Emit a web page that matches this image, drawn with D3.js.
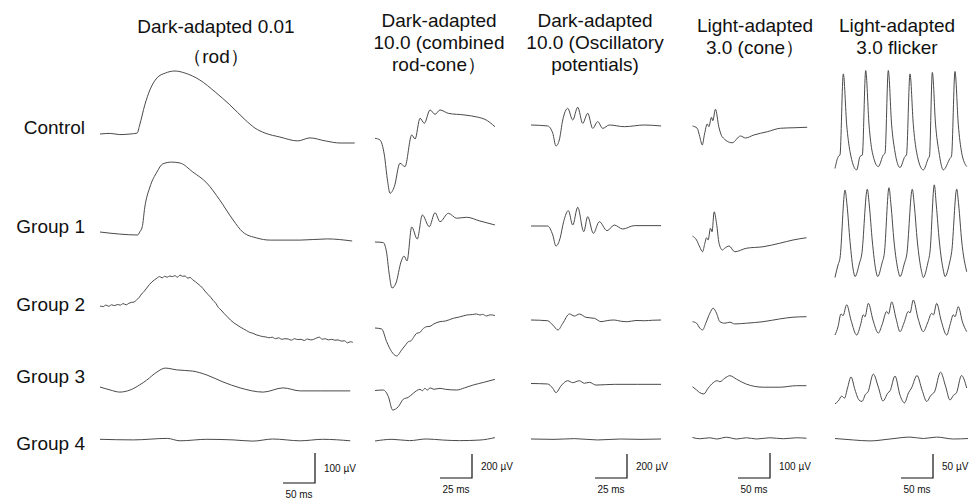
<!DOCTYPE html>
<html>
<head>
<meta charset="utf-8">
<script src="https://cdn.jsdelivr.net/npm/d3@7"></script>
<style>
body { margin: 0; background: #fff; }
svg text { font-family: "Liberation Sans", Arial, sans-serif; fill: #111; }
</style>
</head>
<body>
<div class="svg-container"></div>
<script>
const width = 969;
const height = 498;

const groups = ['Control', 'Group 1', 'Group 2', 'Group 3', 'Group 4'];
const titles = [
  ['Dark-adapted 0.01', '（rod）'],
  ['Dark-adapted', '10.0 (combined', 'rod-cone）'],
  ['Dark-adapted', '10.0 (Oscillatory', 'potentials)'],
  ['Light-adapted', '3.0 (cone）'],
  ['Light-adapted', '3.0 flicker']
];
const barVolts = [100, 200, 200, 100, 50];
const barTimes = [50, 25, 25, 50, 50];

// traces: [ms, µV], one list per group
const rodTraces = [
  [[0,0],[16,2],[31,-2],[47,0],[58,3],[62,30],[70,97],[78,147],[89,187],[102,203],[117,210],[133,203],[156,180],[180,140],[203,97],[227,47],[242,20],[258,3],[281,-10],[309,-23],[328,-13],[352,-23],[375,-30],[398,-30]],
  [[0,0],[31,-7],[59,-10],[62,0],[66,17],[70,83],[78,150],[89,200],[98,227],[112,233],[125,230],[145,200],[167,163],[187,107],[208,40],[223,0],[245,-20],[266,-27],[313,-27],[355,-23],[394,-30]],
  [[0,0],[5,-2],[9,3],[14,-1],[18,4],[23,1],[27,5],[32,3],[36,8],[41,4],[45,9],[49,12],[53,13],[57,20],[61,28],[65,40],[69,49],[73,60],[77,71],[81,80],[85,87],[89,93],[93,98],[97,94],[101,99],[105,96],[109,100],[113,98],[117,101],[121,96],[125,103],[129,99],[133,100],[137,93],[141,95],[145,87],[149,81],[153,74],[157,67],[161,58],[165,47],[169,38],[173,29],[177,18],[181,9],[185,-5],[189,-13],[194,-25],[199,-36],[204,-47],[209,-56],[214,-63],[219,-70],[224,-76],[229,-82],[234,-88],[239,-91],[244,-96],[249,-99],[254,-102],[259,-103],[264,-106],[269,-104],[274,-109],[279,-106],[284,-111],[289,-109],[294,-110],[299,-114],[304,-109],[309,-112],[314,-111],[319,-115],[324,-110],[329,-113],[334,-111],[339,-106],[343,-104],[347,-111],[352,-109],[357,-113],[362,-111],[367,-114],[372,-113],[377,-117],[382,-116],[387,-123],[391,-119],[395,-121]],
  [[0,0],[16,-10],[31,-17],[47,-10],[62,7],[73,23],[89,50],[102,63],[120,57],[145,53],[167,40],[192,17],[219,-3],[255,-17],[286,-3],[313,-13],[344,-13],[391,-13]],
  [[0,0],[52,-2],[105,3],[125,-5],[167,0],[208,-2],[239,-6],[270,1],[313,-5],[348,0],[391,-5]]
];

const mixedTraces = [
  [[0,0],[3.9,-14],[7.3,-139],[9.9,-361],[11.7,-458],[15.1,-403],[19.5,-208],[23.4,-236],[28.7,28],[31.3,-6],[35.2,167],[38.5,125],[43,236],[46.9,200],[50.8,236],[57.3,208],[70.3,194],[80.7,175],[85.9,158],[93.7,97]],
  [[0,0],[6.3,-4],[9,-83],[10.9,-250],[13.3,-383],[16.4,-342],[20.3,-167],[22.7,-117],[25,-158],[28.7,125],[33,25],[37,225],[42.4,128],[46.9,244],[50.8,169],[57.3,239],[63.8,198],[71.6,206],[82,175],[93.7,142]],
  [[0,0],[5.2,-8],[9.1,-114],[13,-197],[16.9,-233],[20.8,-183],[24,-140],[26,-114],[28,-108],[30,-80],[32.6,-44],[35,-38],[37,-12],[40.4,11],[43,14],[46,34],[50.8,53],[55,58],[61.2,81],[66,92],[71.6,108],[76,112],[79.4,117],[82,108],[84,114],[87.2,100],[90,110],[93.7,104]],
  [[0,0],[6.5,4],[10.4,-50],[13.8,-163],[18.2,-135],[22.1,-73],[26,-57],[29.9,-23],[35.2,10],[37,-2],[39,18],[41,4],[43,22],[46,10],[50.8,18],[55,10],[63.8,4],[70,22],[76.8,46],[85,68],[93.7,93]],
  [[0,0],[13.3,14],[27,3],[40,17],[53,8],[66,3],[82,8],[93.7,28]]
];

const opTraces = [
  [[0,0],[13,-8],[17,-69],[19.5,-175],[22.1,-125],[24.8,42],[28.7,139],[32.6,42],[36.5,148],[40.4,14],[44.3,98],[48.2,-28],[52.1,28],[56,-28],[61.2,0],[72.9,-14],[88.5,0],[101.6,-8]],
  [[0,0],[13,0],[17,-75],[19.5,-167],[22.7,-103],[25.5,36],[29.2,128],[32.6,8],[36.5,156],[41.2,-47],[44.3,78],[48.7,-61],[53.4,36],[59.4,-39],[65.1,8],[71.6,-25],[80.7,3],[101.6,3]],
  [[0,0],[13,-6],[17,-42],[21.1,-83],[24.8,-28],[30,50],[33.9,33],[37.8,50],[43,22],[49.5,14],[54.7,-14],[60,-4],[65.1,0],[70,-10],[75.5,-14],[82,-4],[88.5,-6],[95,-2],[101.6,0]],
  [[0,0],[13,-4],[17,-40],[19.5,-76],[23.4,-21],[28.6,23],[32.6,7],[37.8,23],[41.7,2],[45.6,10],[50.8,-13],[65.1,-7],[83.3,-7],[101.6,-7]],
  [[0,0],[18,-3],[34,3],[52,-8],[70,0],[86,-3],[101.6,0]]
];

const coneTraces = [
  [[0,0],[7.3,-9],[11.4,-43],[15.2,-76],[18.8,-32],[23,8],[25.5,-3],[29.7,35],[31.7,21],[35.9,67],[41.1,-3],[46.4,-43],[62,-67],[75,-40],[82.8,-48],[95.8,-36],[116.7,-23],[137.5,-9],[158.3,-7],[179.2,-5]],
  [[0,0],[6.3,-16],[11.5,-45],[15.7,-63],[19.3,-29],[21.9,-7],[24.4,-16],[28.1,31],[30.6,17],[33.8,97],[37.5,51],[41.5,-29],[46.7,-56],[50.3,-49],[57.1,-40],[66,-63],[84.2,-49],[110.2,-43],[136.2,-29],[157.1,-16],[178.1,-7]],
  [[0,0],[6.3,-6],[11.5,-26],[15.7,-33],[20.8,-6],[27.1,34],[32.3,54],[37.5,34],[42.7,0],[50.5,-6],[58.3,-2],[66.1,-9],[84.2,-6],[110.2,0],[136.2,11],[157.1,18],[178.1,20]],
  [[0,0],[6.3,-13],[11.5,-24],[17.7,-29],[24.4,-6],[32.3,16],[38.5,24],[42.7,20],[50.5,34],[58.3,44],[68.8,30],[84.4,10],[110.4,-2],[136.5,-2],[162.5,4],[178.1,4]],
  [[0,0],[11.5,-5],[27.1,-1],[37.5,-6],[53.1,1],[68.8,-6],[84.4,-1],[100,-6],[120.8,-1],[141.7,-5],[162.5,-1],[178.1,-3]]
];

const flickerTraces = [
  [[3.1,-1],[8.3,24],[10.9,27],[16.1,196],[21.4,90],[26.6,34],[37,-4],[42.2,24],[45.8,27],[51.1,203],[56.3,90],[61.4,33],[70.8,3],[78.6,27],[81.3,31],[86.4,203],[91.6,90],[96.9,33],[104.7,1],[112.5,24],[114.8,27],[120.3,196],[125.5,90],[130.6,33],[141.1,-4],[148.9,20],[150.8,25],[155.2,199],[160.3,90],[165.6,33],[172.3,-4],[182.8,20],[185.2,25],[190.6,201],[195.8,90],[200.9,33],[208.9,3]],
  [[3.1,-1],[7.8,25],[10.9,39],[18.8,181],[21.9,150],[26.6,74],[32,12],[34.4,1],[41.4,29],[44.8,46],[53.6,183],[56.7,150],[61.4,75],[67.2,12],[69.8,1],[76.6,29],[80.2,49],[87.5,186],[90.6,150],[95.3,75],[102,12],[104.7,1],[111.7,29],[115.2,46],[123.9,183],[127,150],[131.7,75],[138.3,12],[141.1,-1],[148.1,29],[151.6,53],[158.3,192],[161.4,150],[166.1,75],[172.7,12],[175,1],[182,29],[185.5,53],[193.3,183],[196.4,150],[201.1,75],[208.9,11]],
  [[3.1,0],[7.8,17],[12.5,44],[15.6,40],[21.4,63],[28.1,31],[37,0],[43,21],[47.3,42],[50,38],[55.2,66],[62.5,31],[70.8,4],[76.6,21],[83.9,49],[86.7,44],[91.7,69],[98.4,35],[104.7,7],[110.9,25],[117.7,49],[120.3,46],[125.5,73],[132.8,35],[141.1,7],[147.7,25],[154.2,45],[157,42],[162,66],[168.8,31],[177.7,0],[182.8,21],[188,42],[190.6,38],[195.8,59],[202.3,27],[208.9,7]],
  [[3.1,-8],[8.3,-2],[13.6,8],[18,4],[22.7,25],[28.1,48],[34.4,21],[40.6,0],[45.3,-3],[50.8,12],[54.7,17],[63,54],[70.8,27],[78.1,-2],[85.9,15],[89.1,19],[96.9,50],[104.7,10],[111.7,-6],[118,15],[122.7,25],[131.3,51],[139.1,21],[146.4,-3],[153.1,10],[158.6,17],[168,58],[175.8,29],[182.8,0],[188.3,10],[192.9,15],[200.8,51],[208.9,25]],
  [[3.1,1],[31.7,-2],[57.8,-4],[89.1,0],[120.3,4],[141.1,1],[162,4],[188,0],[211,1]]
];

// layout of each column
const panels = [
  { traces: rodTraces, left: 100, msPx: 0.64, uvPx: 0.30, rows: [134, 232, 306, 387, 439.3], bar: [315, 483], titleX: 216, titleY: [33, 63] },
  { traces: mixedTraces, left: 375, msPx: 1.28, uvPx: 0.12, rows: [138.3, 242, 328, 390.5, 441], bar: [472, 478], titleX: 439, titleY: [27, 49, 71] },
  { traces: opTraces, left: 531, msPx: 1.28, uvPx: 0.12, rows: [125, 226, 320, 383.5, 439], bar: [627, 478], titleX: 595, titleY: [27, 49, 71] },
  { traces: coneTraces, left: 692.5, msPx: 0.64, uvPx: 0.25, rows: [126, 236, 321.7, 386.7, 437.5], bar: [770, 478], titleX: 755, titleY: [32, 54] },
  { traces: flickerTraces, left: 833, msPx: 0.64, uvPx: 0.48, rows: [168, 277, 335, 400, 439], bar: [933, 478], titleX: 897, titleY: [32, 54] }
];
const labelY = [134, 233, 311, 383, 450];

const svg = d3.select('.svg-container')
.append('svg')
.attr('width', width)
.attr('height', height);

svg.selectAll('.group-label')
.data(groups)
.enter()
.append('text')
.attr('class', 'group-label')
.attr('x', 85)
.attr('y', (d, i) => labelY[i])
.attr('text-anchor', 'end')
.style('font-size', '19px')
.text(d => d);

panels.forEach((p, c) => {
  const x = d3.scaleLinear()
  .domain([0, 100])
  .range([p.left, p.left + 100 * p.msPx]);

  p.traces.forEach((trace, r) => {
    const y = d3.scaleLinear()
    .domain([0, 100])
    .range([p.rows[r], p.rows[r] - 100 * p.uvPx]);

    const line = d3.line()
    .x(d => x(d[0]))
    .y(d => y(d[1]))
    .curve(d3.curveMonotoneX);

    svg.append('path')
    .datum(trace)
    .attr('d', line)
    .attr('fill', 'none')
    .attr('stroke', '#4a4a4a')
    .attr('stroke-width', 1)
    .attr('stroke-linejoin', 'round');
  });

  const title = svg.append('text')
  .attr('text-anchor', 'middle')
  .style('font-size', '19px');
  titles[c].forEach((t, i) => {
    title.append('tspan')
    .attr('x', p.titleX)
    .attr('y', p.titleY[i])
    .text(t);
  });

  // scale bar, lengths come from the same scales as the traces
  const volt = d3.scaleLinear().domain([0, 100]).range([0, 100 * p.uvPx]);
  const vLen = volt(barVolts[c]);
  const hLen = x(barTimes[c]) - x(0);
  const [bx, by] = p.bar;

  svg.append('path')
  .attr('d', `M${bx},${by - vLen}V${by}H${bx - hLen}`)
  .attr('fill', 'none')
  .attr('stroke', '#111')
  .attr('stroke-width', 1.2);

  svg.append('text')
  .attr('x', bx + 9)
  .attr('y', by - vLen / 2 + 4)
  .style('font-size', '10px')
  .text(`${barVolts[c]} µV`);

  svg.append('text')
  .attr('x', bx - hLen / 2)
  .attr('y', by + 14.5)
  .attr('text-anchor', 'middle')
  .style('font-size', '10px')
  .text(`${barTimes[c]} ms`);
});
</script>
</body>
</html>
